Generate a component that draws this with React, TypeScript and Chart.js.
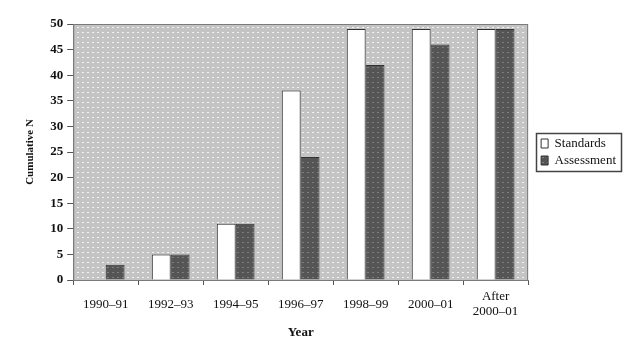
import React, { useEffect, useRef } from "react";
import { Chart, registerables } from "chart.js";

Chart.register(...registerables);

const categories: (string | string[])[] = [
  "1990–91",
  "1992–93",
  "1994–95",
  "1996–97",
  "1998–99",
  "2000–01",
  ["After", "2000–01"],
];
const standardsValues = [0, 5, 11, 37, 49, 49, 49];
const assessmentValues = [3, 5, 11, 24, 42, 46, 49];
const yTickMin = 0;
const yTickMax = 50;
const yTickStep = 5;

const SERIF = "'Liberation Serif', 'Times New Roman', serif";

function makePattern(bg: string, dot: string, size: number, dw: number, dh: number) {
  const c = document.createElement("canvas");
  c.width = size;
  c.height = size;
  const g = c.getContext("2d")!;
  g.fillStyle = bg;
  g.fillRect(0, 0, size, size);
  g.fillStyle = dot;
  g.fillRect(2, 2, dw, dh);
  const ctx = document.createElement("canvas").getContext("2d")!;
  return ctx.createPattern(c, "repeat")!;
}

export default function App() {
  const ref = useRef<HTMLCanvasElement | null>(null);

  useEffect(() => {
    document.body.style.margin = "0";
    const canvas = ref.current!;
    const plotBg = makePattern("#c4c4c4", "#f2f2f2", 5, 2, 1);
    const darkFill = makePattern("#555555", "#7e7e7e", 5, 2, 1);

    const plotAreaPlugin = {
      id: "plotArea",
      beforeDraw(chart: any) {
        const { ctx, chartArea: a } = chart;
        ctx.save();
        ctx.fillStyle = plotBg;
        ctx.fillRect(a.left, a.top, a.right - a.left, a.bottom - a.top);
        ctx.strokeStyle = "#7a7a7a";
        ctx.lineWidth = 1;
        ctx.strokeRect(a.left + 0.5, a.top + 0.5, a.right - a.left - 1, a.bottom - a.top);
        ctx.restore();
      },
      afterDraw(chart: any) {
        const lg = chart.legend;
        if (!lg || !lg.legendHitBoxes || !lg.legendHitBoxes.length) return;
        const hb = lg.legendHitBoxes;
        let l = Infinity, t = Infinity, r = -Infinity, b = -Infinity;
        for (const h of hb) {
          l = Math.min(l, h.left);
          t = Math.min(t, h.top);
          r = Math.max(r, h.left + h.width);
          b = Math.max(b, h.top + h.height);
        }
        const ctx = chart.ctx;
        ctx.save();
        ctx.strokeStyle = "#444";
        ctx.lineWidth = 1.5;
        ctx.strokeRect(Math.round(l - 5) + 0.5, Math.round(t - 4) + 0.5, Math.round(r - l + 10), Math.round(b - t + 8));
        ctx.restore();
      },
    };

    const chart = new Chart(canvas, {
      type: "bar",
      data: {
        labels: categories,
        datasets: [
          {
            label: "Standards",
            data: standardsValues,
            backgroundColor: "#ffffff",
            borderColor: "#333333",
            borderWidth: 1,
            barPercentage: 1,
            categoryPercentage: 0.58,
          },
          {
            label: "Assessment",
            data: assessmentValues,
            backgroundColor: darkFill as any,
            borderColor: "#333333",
            borderWidth: 1,
            barPercentage: 1,
            categoryPercentage: 0.58,
          },
        ],
      },
      options: {
        responsive: false,
        animation: false,
        layout: { padding: { top: 24, left: 24, right: 14, bottom: 8 } },
        plugins: {
          tooltip: { enabled: false },
          legend: {
            position: "right",
            fullSize: false,
            labels: {
              boxWidth: 7,
              boxHeight: 9,
              padding: 4,
              color: "#111",
              font: { family: SERIF, size: 13 },
            },
          },
        },
        scales: {
          x: {
            afterFit: (s: any) => {
              s.height = 60;
            },
            grid: {
              display: true,
              offset: true,
              drawOnChartArea: false,
              drawTicks: true,
              tickLength: 5,
              color: "#555",
            },
            border: { display: true, color: "#7a7a7a" },
            ticks: {
              color: "#111",
              padding: 12,
              maxRotation: 0,
              autoSkip: false,
              crossAlign: "center",
              font: { family: SERIF, size: 13, lineHeight: 1.1 },
            },
            title: {
              display: true,
              text: "Year",
              color: "#111",
              padding: { top: 0, bottom: 0 },
              font: { family: SERIF, size: 13, weight: "bold", lineHeight: 1.2 },
            },
          },
          y: {
            min: yTickMin,
            max: yTickMax,
            grid: {
              display: true,
              drawOnChartArea: false,
              drawTicks: true,
              tickLength: 6,
              color: "#555",
            },
            border: { display: true, color: "#7a7a7a" },
            ticks: {
              stepSize: yTickStep,
              color: "#111",
              padding: 4,
              font: { family: SERIF, size: 13, weight: "bold" },
            },
            title: {
              display: true,
              text: "Cumulative N",
              color: "#111",
              padding: { top: 0, bottom: 9 },
              font: { family: SERIF, size: 11, weight: "bold", lineHeight: 1.2 },
            },
          },
          yGap: {
            type: "linear",
            position: "right",
            display: true,
            grid: { display: false },
            border: { display: false },
            ticks: { display: false },
            afterFit: (s: any) => {
              s.width = 9;
            },
          },
        },
      } as any,
      plugins: [plotAreaPlugin],
    });
    return () => chart.destroy();
  }, []);

  return (
    <div style={{ width: 640, height: 348 }}>
      <canvas ref={ref} width={640} height={348} style={{ display: "block" }} />
    </div>
  );
}
